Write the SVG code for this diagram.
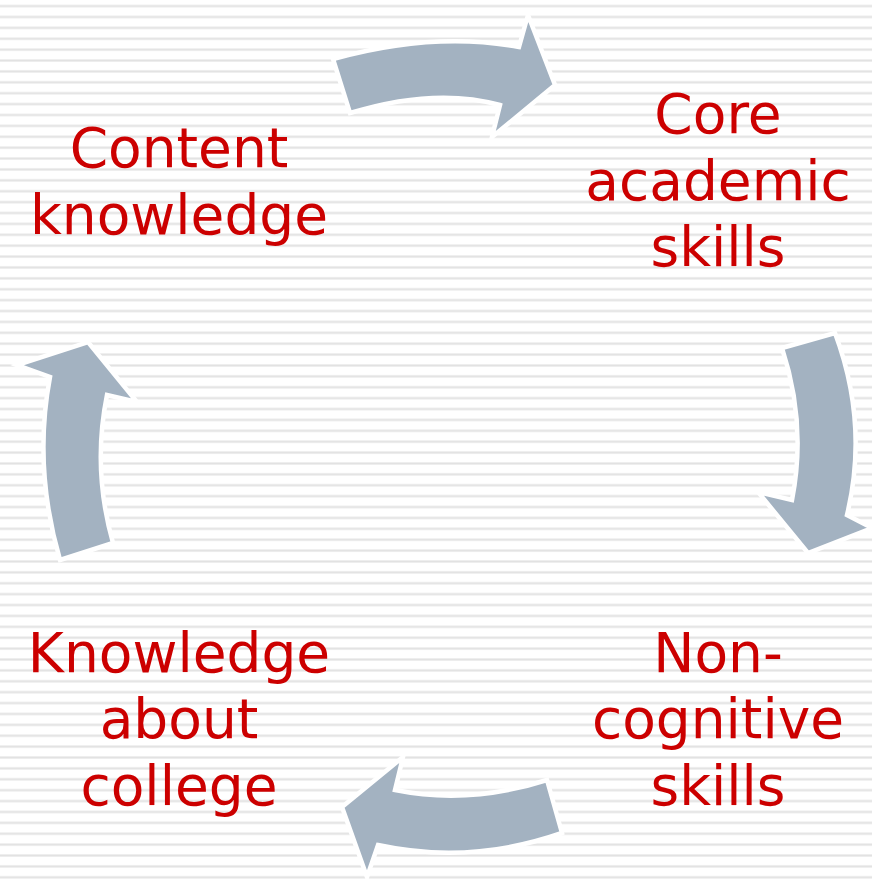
<svg xmlns="http://www.w3.org/2000/svg" width="872" height="882" viewBox="0 0 872 882">
  <style>
    .label { font-family: "DejaVu Sans", Verdana, sans-serif; font-size: 55px; fill: #cc0000; text-anchor: middle; }
    .arrow { fill: #a3b2c1; stroke: #ffffff; stroke-width: 4.5; stroke-linejoin: miter; }
  </style>
  <defs>
    <pattern id="stripes" patternUnits="userSpaceOnUse" x="0" y="4.6" width="872" height="10.89">
      <rect x="0" y="0" width="872" height="3" fill="#eeeeee"/>
      <rect x="0" y="1" width="872" height="1" fill="#e2e2e2"/>
    </pattern>
  </defs>

  <!-- striped background -->
  <rect x="0" y="0" width="872" height="882" fill="#ffffff"/>
  <rect x="0" y="0" width="872" height="882" fill="url(#stripes)"/>

  <!-- curved cycle arrows -->
  <g id="connectors">
    <path class="arrow" d="M333,59 Q434,31 519,47 L528,15 L555,85 L492,137 L500,105 Q435,87 350,113 Z"/>
    <path class="arrow" d="M782,348 L835,333 Q869,424 847,515 L872,528 L808,553 L758,492 L792,500 Q807,424 782,348 Z"/>
    <path class="arrow" d="M547,780 L562,833 Q470,865 378,845 L367,877 L342,807 L403,757 L395,790 Q469,805 547,780 Z"/>
    <path class="arrow" d="M60,560 L113,543 Q92,469 107,395 L137,402 L88,342 L17,365 L50,377 Q33,467 60,560 Z"/>
  </g>

  <g id="content-knowledge">
    <text class="label" x="179" y="167">Content</text>
    <text class="label" x="179" y="234">knowledge</text>
  </g>

  <g id="core-academic-skills">
    <text class="label" x="718" y="133">Core</text>
    <text class="label" x="718" y="200">academic</text>
    <text class="label" x="718" y="266">skills</text>
  </g>

  <g id="non-cognitive-skills">
    <text class="label" x="718" y="672">Non-</text>
    <text class="label" x="718" y="738">cognitive</text>
    <text class="label" x="718" y="805">skills</text>
  </g>

  <g id="knowledge-about-college">
    <text class="label" x="179" y="672">Knowledge</text>
    <text class="label" x="179" y="738">about</text>
    <text class="label" x="179" y="805">college</text>
  </g>
</svg>
